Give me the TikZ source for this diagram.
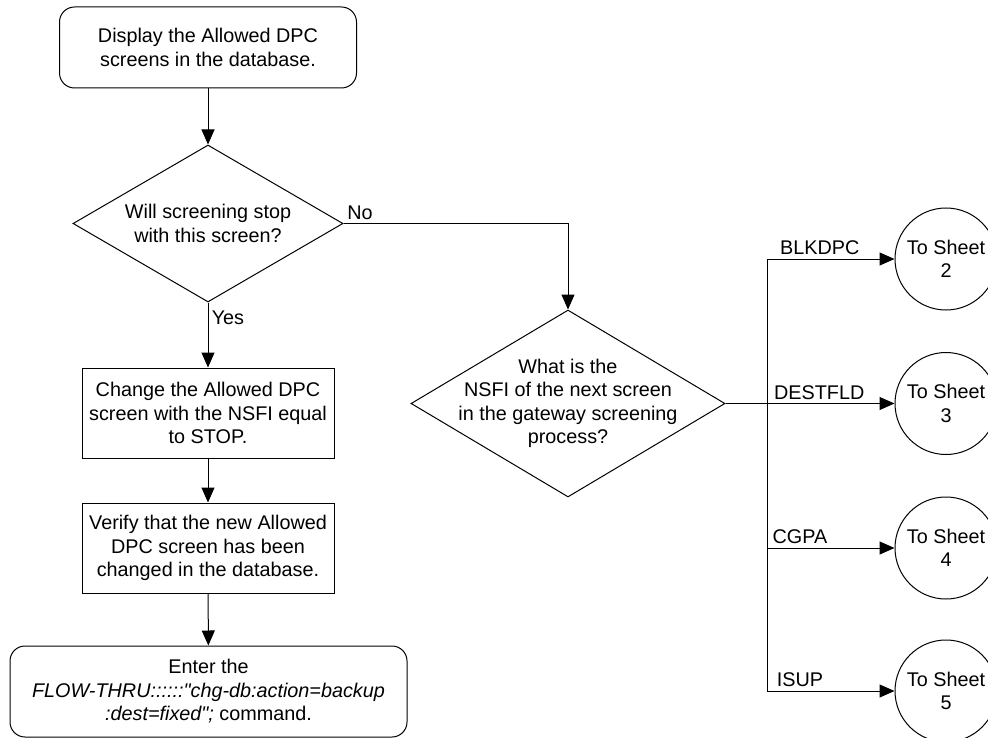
\documentclass[tikz,border=0pt]{standalone}
\usepackage{fontspec}
\setmainfont{Liberation Sans}[Ligatures=TeXOff]
\usetikzlibrary{shapes.geometric,arrows.meta}

\begin{document}
\begin{tikzpicture}[
    x=1pt, y=-1pt,
    every node/.style={font=\fontsize{19.8}{23.5}\selectfont, align=center},
    line/.style={draw, line width=1pt},
    arr/.style={line, -{Triangle[length=15pt, width=13pt]}},
    term/.style={draw, line width=1pt, rounded corners=15pt, inner sep=0pt},
    proc/.style={
      draw, line width=1pt, inner sep=0pt,
      minimum width=252pt, minimum height=90pt,
    },
    decision/.style={draw, diamond, line width=1pt, inner sep=0pt},
    sheet/.style={draw, circle, line width=1pt, minimum size=102pt, inner sep=0pt},
  ]
\useasboundingbox (0,0) rectangle (988,738);
% --- column x-positions
\def\cA{208}
\def\cB{568}
\def\cC{946}
% --- x of the branch trunk
\def\tA{767}

% Left column — main flow
\node[term, minimum width=297pt, minimum height=81pt] (display) at (\cA, 47.5) {%
  Display the Allowed DPC\\screens in the database.};

\node[decision, minimum width=270pt, minimum height=157pt] (stopq) at (\cA, 223.5) {};
\node (stoptxt) at (stopq.center) {Will screening stop\\with this screen?};

\node[proc] (change) at (\cA, 413) {%
  Change the Allowed DPC\\screen with the NSFI equal\\to STOP.};

\node[proc] (verify) at (\cA, 548) {%
  Verify that the new Allowed\\DPC screen has been\\changed in the database.};

\node[term, minimum width=397pt, minimum height=91pt] (backup) at (208.5, 691.5) {%
  Enter the\\
  \textit{FLOW-THRU::::::"chg-db:action=backup}\\
  \textit{:dest=fixed";} command.};

% Middle — next screen question
\node[decision, minimum width=314pt, minimum height=187pt] (nsfi) at (\cB, 403.5) {};
\node (nsfitxt) at (nsfi.center) {%
  What is the\\NSFI of the next screen\\in the gateway screening\\process?};

% Right column — off-sheet connectors
\node[sheet] (sheet2) at (\cC, 259) {To Sheet\\2};
\node[sheet] (sheet3) at (\cC, 403.5) {To Sheet\\3};
\node[sheet] (sheet4) at (\cC, 548) {To Sheet\\4};
\node[sheet] (sheet5) at (\cC, 691) {To Sheet\\5};

% --- connectors
\draw[arr] (display) -- (stopq);
\draw[arr] (stopq.east) -| node[pos=0, above right] (nolbl) {No} (nsfi.north);
\draw[arr] (stopq.south) -- node[pos=0.23, right] (yeslbl) {Yes} (change.north);
\draw[arr] (change) -- (verify);
\draw[arr] (verify) -- (backup);

\coordinate (fork) at (\tA, 403.5);
\draw[line] (nsfi.east) -- (fork);
\draw[arr] (fork) |- node[pos=0.707, above] (blklbl) {BLKDPC} (sheet2);
\draw[arr] (fork) -- node[pos=0.41, above] (destlbl) {DESTFLD} (sheet3);
\draw[arr] (fork) |- node[pos=0.629, above] (cgpalbl) {CGPA} (sheet4);
\draw[arr] (fork) |- node[pos=0.629, above] (isuplbl) {ISUP} (sheet5);
\end{tikzpicture}
\end{document}
